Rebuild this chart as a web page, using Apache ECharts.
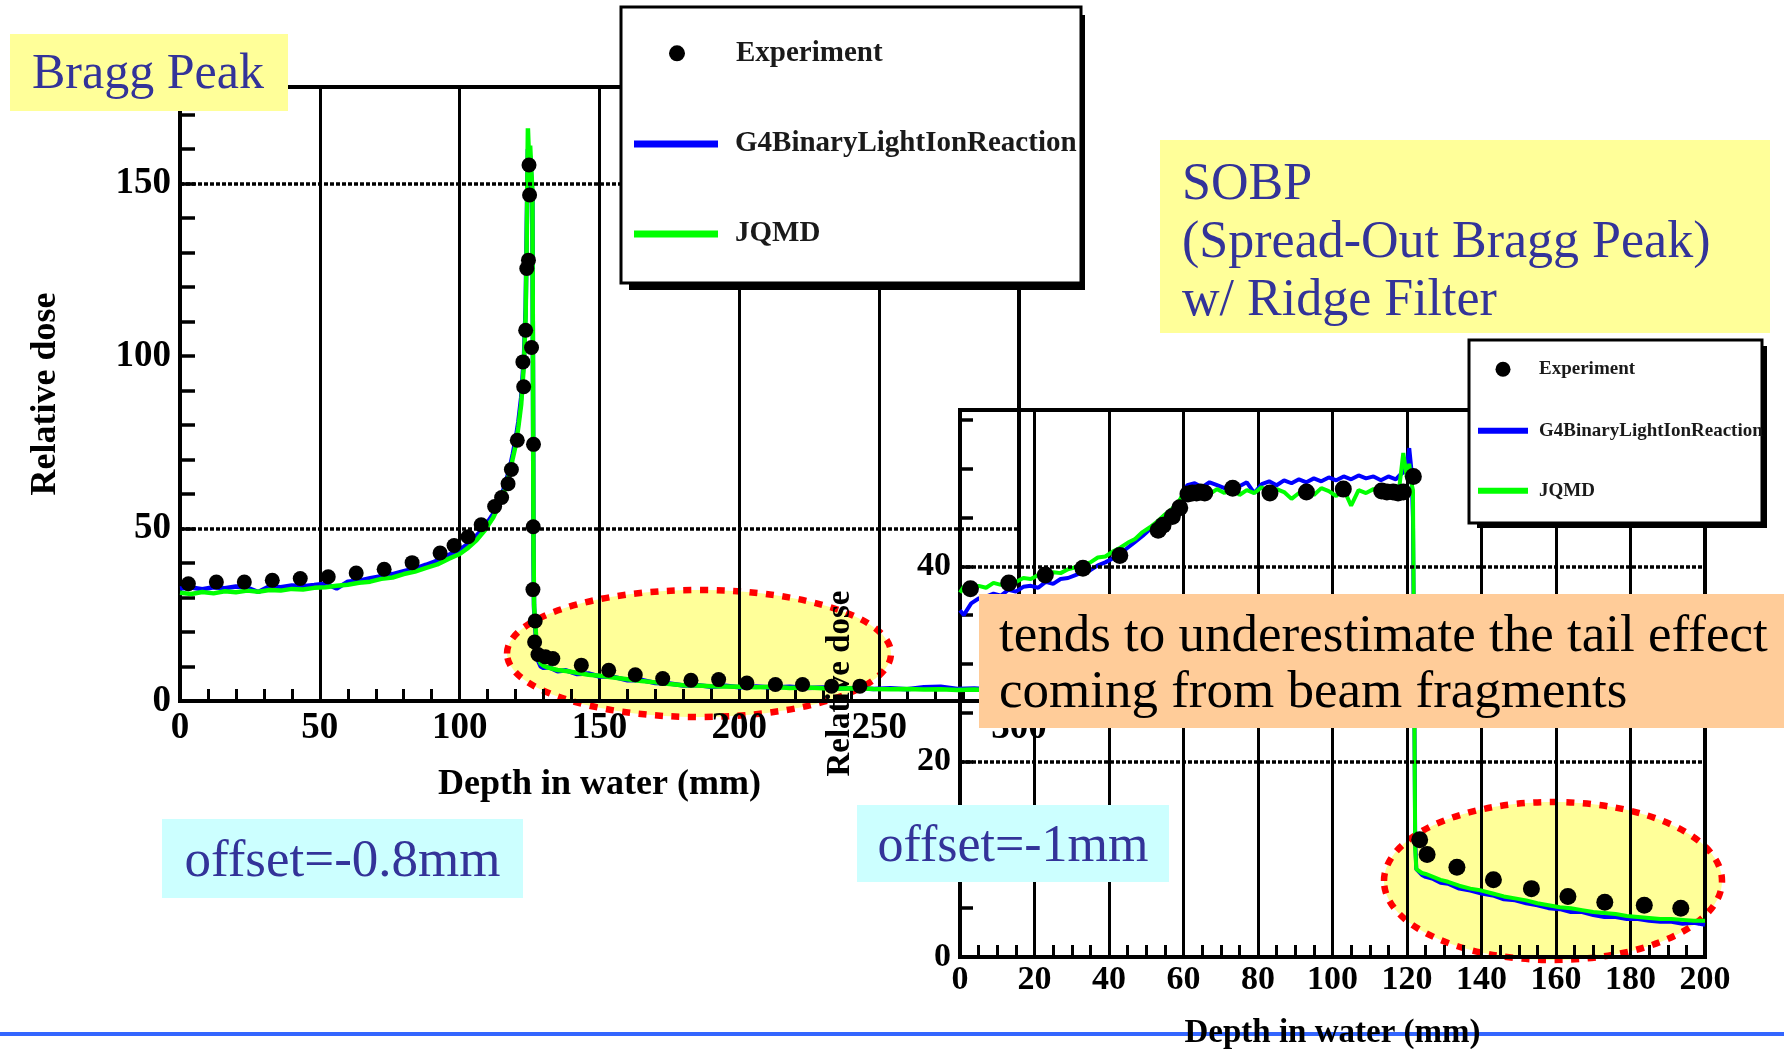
<!DOCTYPE html>
<html>
<head>
<meta charset="utf-8">
<title>Bragg peak and SOBP depth-dose curves</title>
<script src="https://cdn.jsdelivr.net/npm/echarts@6/dist/echarts.min.js"></script>
<style>
  html, body { margin: 0; padding: 0; background: #ffffff; }
  #chart { width: 1784px; height: 1049px; }
</style>
</head>
<body>
<div id="chart"></div>
<script>
// ---------------- Bragg peak (single carbon beam) ----------------
const braggExpDepth = [3, 13, 23, 33, 43, 53, 63, 73, 83, 93, 98, 103, 107.7, 112.5, 115, 117.3, 118.5, 120.6, 122.6, 122.9, 123.6, 124.0, 124.6, 124.8, 125.0, 125.7, 126.4, 126.3, 126.2, 127.0, 126.8, 128.0, 130.7, 133.3, 143.5, 153.3, 162.8, 172.6, 182.7, 192.6, 202.7, 212.9, 222.6, 233.0, 243.1];
const braggExpDose  = [34.0, 34.5, 34.5, 35.0, 35.5, 36.0, 37.1, 38.2, 40.1, 42.9, 45.1, 47.6, 51.1, 56.4, 59.0, 63.0, 67.1, 75.6, 98.3, 91.1, 107.5, 125.4, 127.8, 155.4, 146.7, 102.5, 74.4, 50.5, 32.3, 23.2, 17.1, 13.5, 12.8, 12.3, 10.4, 8.9, 7.6, 6.5, 6.0, 6.2, 5.2, 4.8, 4.8, 4.3, 4.3];

const braggSimDepth = [0, 4, 8, 12, 16, 20, 24, 28, 32, 36, 40, 44, 48, 52, 56, 60, 64, 68, 72, 76, 80, 84, 88, 92, 96, 100,
  103, 106, 109, 112, 114, 116, 118, 119, 120, 121, 122, 123,
  123.6, 124.0, 124.4, 124.8, 125.2, 125.6, 126.0, 126.2, 126.4, 126.6, 127.0, 127.5, 128,
  129, 130, 132, 135, 138, 142, 146, 150, 155, 160, 165, 170, 175, 180, 185, 190, 195, 200,
  206, 212, 218, 224, 230, 236, 242, 248, 254, 260, 266, 272, 278, 284, 290, 296, 300];
const braggBinaryDose = [32.6, 32.9, 32.4, 33.0, 32.7, 33.2, 32.9, 31.6, 33.3, 33.0, 33.5, 33.3, 33.6, 34.0, 32.6, 34.6, 34.9, 35.6, 36.2, 36.8, 37.6, 38.4, 39.5, 40.7, 42.3, 43.8,
  45.6, 47.9, 50.6, 54.3, 57.8, 62.0, 67.8, 71.6, 75.8, 81.0, 88.0, 100.0,
  114, 138, 160, 155, 158, 152, 146, 98, 42, 27, 21.5, 16.0, 11.8,
  10.0, 9.6, 9.8, 8.6, 8.9, 7.8, 8.0, 7.1, 7.0, 6.0, 6.1, 5.2, 5.1, 4.5, 4.6, 4.1, 4.4, 4.0,
  4.2, 3.9, 4.1, 3.8, 3.9, 3.6, 3.8, 3.5, 3.7, 3.4, 4.0, 4.1, 3.5, 3.6, 3.3, 3.5, 3.4];
const braggJqmdDose = [31.4, 31.0, 31.6, 31.2, 31.8, 31.5, 32.0, 31.7, 32.2, 32.0, 32.5, 32.3, 32.8, 33.0, 33.4, 33.7, 34.3, 34.6, 35.4, 35.8, 36.8, 37.5, 38.6, 39.6, 41.2, 42.6,
  44.4, 46.6, 49.5, 53.2, 56.6, 60.8, 66.5, 70.4, 74.0, 79.5, 86.0, 98.0,
  112, 135, 166, 157, 161, 154, 148, 100, 45, 28, 22.5, 17.0, 12.5,
  10.8, 10.2, 9.6, 9.0, 8.7, 8.2, 7.6, 7.3, 6.8, 6.3, 5.8, 5.4, 4.9, 4.6, 4.5, 4.3, 4.2, 4.1,
  4.0, 4.1, 3.8, 3.9, 3.7, 3.6, 3.7, 3.5, 3.4, 3.5, 3.3, 3.4, 3.2, 3.3, 3.1, 3.2, 3.1];

const braggDoseLabels = [0, 50, 100, 150];
const braggDashedLevels = [50, 150];

// ---------------- SOBP (ridge filter) ----------------
const sobpExpDepth = [2.8, 13.1, 22.9, 33.0, 42.9, 53.2, 54.5, 57.0, 59.0, 61.2, 62.4, 63.5, 64.6, 65.7, 73.2, 83.2, 93.0, 102.9, 113.2, 114.6, 116.3, 117.6, 119.0, 121.7,
  123.4, 125.4, 133.4, 143.2, 153.4, 163.2, 173.1, 183.7, 193.5];
const sobpExpDose  = [37.7, 38.3, 39.1, 39.8, 41.1, 43.7, 44.2, 45.1, 46.0, 47.4, 47.5, 47.5, 47.6, 47.5, 48.0, 47.5, 47.6, 47.9, 47.7, 47.6, 47.6, 47.5, 47.6, 49.2,
  12.0, 10.5, 9.2, 7.9, 7.0, 6.2, 5.6, 5.3, 5.0];

const sobpSimDepth = [0, 1, 3, 5, 7, 9, 11, 13, 15, 17, 19, 21, 23, 25, 27, 29, 31, 33, 35, 37, 39, 41, 43, 45, 47, 49, 51, 53, 55, 57, 59, 60,
  61, 63, 65, 67, 69, 71, 73, 75, 77, 79, 81, 83, 85, 87, 89, 91, 93, 95, 97, 99, 101, 103, 105, 107, 109, 111, 113, 115, 117,
  118, 119, 120, 120.6, 121.2, 121.6, 121.9, 122.2, 122.5, 123, 124, 125, 127, 129, 131,
  134, 137, 140, 143, 146, 149, 152, 155, 158, 161, 164, 167, 170, 173, 176, 179, 182, 185, 188, 191, 194, 197, 200];
const sobpBinaryDose = [35.5, 35.0, 36.2, 36.7, 36.9, 37.2, 37.0, 37.6, 37.4, 37.9, 38.0, 37.8, 38.4, 38.2, 38.7, 38.8, 39.1, 39.4, 39.6, 40.1, 40.4, 40.8, 41.3, 41.9, 42.5, 43.1, 43.8, 44.4, 45.1, 45.8, 46.7, 47.4,
  48.3, 48.5, 48.1, 48.6, 48.3, 48.0, 48.5, 48.2, 48.6, 47.5, 48.4, 48.7, 48.3, 48.8, 48.5, 48.9, 48.6, 49.0, 48.7, 49.1, 48.8, 49.2, 48.9, 49.3, 49.0, 49.2, 48.8, 49.2, 48.9,
  49.3, 49.6, 50.4, 52.1, 49.8, 45.0, 30.0, 12.0, 9.0, 8.8, 8.4, 8.2, 8.0, 7.6, 7.5,
  7.0, 6.8, 6.5, 6.3, 5.9, 5.8, 5.5, 5.3, 5.0, 4.9, 4.6, 4.6, 4.3, 4.1, 4.1, 3.9, 3.9, 3.7, 3.6, 3.6, 3.4, 3.5, 3.3];
const sobpJqmdDose = [37.3, 37.9, 37.6, 38.0, 37.8, 38.3, 38.1, 38.6, 38.4, 38.8, 38.7, 39.1, 39.0, 39.4, 39.3, 39.7, 39.9, 40.2, 40.4, 40.9, 41.0, 41.5, 41.9, 42.4, 42.8, 43.5, 44.0, 44.6, 45.3, 45.9, 46.8, 47.5,
  47.9, 47.6, 48.0, 47.4, 47.9, 47.5, 48.3, 47.3, 47.8, 47.5, 48.1, 47.4, 47.9, 47.6, 46.9, 47.5, 47.9, 47.3, 48.0, 47.7, 47.2, 47.9, 46.2, 47.8, 47.5, 47.9, 47.6, 48.0, 47.7,
  48.3, 51.6, 49.0, 50.5, 48.5, 47.8, 30.0, 11.0, 9.0, 8.8, 8.6, 8.5, 8.2, 7.9, 7.7,
  7.3, 7.0, 6.8, 6.5, 6.2, 6.0, 5.8, 5.5, 5.3, 5.1, 5.0, 4.8, 4.6, 4.5, 4.4, 4.2, 4.1, 4.0, 3.9, 3.9, 3.8, 3.7, 3.7];

const sobpDoseLabels = [0, 20, 40];
const sobpDashedLevels = [20, 40];

// ---------------- helpers ----------------
const SERIF = '"Liberation Serif", "Times New Roman", serif';
const INK = '#333399';
const zip = (xs, ys) => xs.map((x, i) => [x, ys[i]]);

function valueAxis(opts) {
  return Object.assign({
    type: 'value',
    nameLocation: 'middle',
    nameMoveOverlap: false,
    axisLine: { show: true, onZero: false, lineStyle: { color: '#000', width: 4 } },
    splitLine: { show: false },
    silent: true
  }, opts);
}

function legendText(size) {
  return { fontFamily: SERIF, fontWeight: 'bold', fontSize: size, color: '#1a1a1a' };
}

const dashedRule = { color: '#000', width: 3.5, type: [4, 2] };

const chart = echarts.init(document.getElementById('chart'), null, { renderer: 'canvas' });

chart.setOption({
  animation: false,
  backgroundColor: '#ffffff',
  grid: [
    { left: 180, top: 87, width: 839, height: 614, show: true, borderColor: '#000', borderWidth: 4,
      backgroundColor: 'transparent', containLabel: false, outerBoundsMode: 'none' },
    { left: 960, top: 410, width: 745, height: 547, show: true, borderColor: '#000', borderWidth: 4,
      backgroundColor: 'transparent', containLabel: false, outerBoundsMode: 'none' }
  ],
  xAxis: [
    valueAxis({
      gridIndex: 0, min: 0, max: 300, interval: 50,
      axisTick: { show: true, inside: true, length: 12, lineStyle: { color: '#000', width: 3 } },
      minorTick: { show: true, splitNumber: 5, length: 12, lineStyle: { color: '#000', width: 3 } },
      splitLine: { show: true, lineStyle: { color: '#000', width: 3 } },
      axisLabel: { fontFamily: SERIF, fontWeight: 'bold', fontSize: 37, color: '#000', margin: 9 },
      name: 'Depth in water (mm)', nameGap: 66,
      nameTextStyle: { fontFamily: SERIF, fontWeight: 'bold', fontSize: 36, color: '#000' }
    }),
    valueAxis({
      gridIndex: 1, min: 0, max: 200, interval: 20,
      axisTick: { show: true, inside: true, length: 12, lineStyle: { color: '#000', width: 3 } },
      minorTick: { show: true, splitNumber: 4, length: 12, lineStyle: { color: '#000', width: 3 } },
      splitLine: { show: true, lineStyle: { color: '#000', width: 3 } },
      axisLabel: { fontFamily: SERIF, fontWeight: 'bold', fontSize: 34, color: '#000', margin: 6 },
      name: 'Depth in water (mm)', nameGap: 60,
      nameTextStyle: { fontFamily: SERIF, fontWeight: 'bold', fontSize: 33, color: '#000' }
    })
  ],
  yAxis: [
    valueAxis({
      gridIndex: 0, min: 0, max: 178, interval: 10,
      axisTick: { show: true, inside: true, length: 15, lineStyle: { color: '#000', width: 3.5 } },
      axisLabel: { fontFamily: SERIF, fontWeight: 'bold', fontSize: 37, color: '#000', margin: 9,
        formatter: v => braggDoseLabels.includes(v) ? String(v) : '' },
      name: 'Relative dose', nameGap: 116, nameRotate: 90,
      nameTextStyle: { fontFamily: SERIF, fontWeight: 'bold', fontSize: 36, color: '#000' }
    }),
    valueAxis({
      gridIndex: 1, min: 0, max: 56, interval: 5,
      axisTick: { show: true, inside: true, length: 13, lineStyle: { color: '#000', width: 3.5 } },
      axisLabel: { fontFamily: SERIF, fontWeight: 'bold', fontSize: 34, color: '#000', margin: 9,
        formatter: v => sobpDoseLabels.includes(v) ? String(v) : '' },
      name: 'Relative dose', nameGap: 103, nameRotate: 90,
      nameTextStyle: { fontFamily: SERIF, fontWeight: 'bold', fontSize: 33, color: '#000' }
    })
  ],
  legend: [
    // Bragg peak panel legend
    { data: ['Experiment'], left: 669, top: 38.8, orient: 'vertical', padding: 0,
      itemWidth: 84, itemHeight: 16, symbolKeepAspect: true, selectedMode: false, z: 120,
      itemStyle: { borderWidth: 0, opacity: 1 },
      textStyle: Object.assign(legendText(29), { padding: [0, 0, 0, 12] }) },
    { data: [{ name: 'G4BinaryLightIonReaction', icon: 'rect' }, { name: 'JQMD', icon: 'rect' }],
      left: 634, top: 129.5, orient: 'vertical', padding: 0, itemGap: 61,
      itemWidth: 84, itemHeight: 7, symbolKeepAspect: false, selectedMode: false, z: 120,
      itemStyle: { borderWidth: 0 },
      textStyle: Object.assign(legendText(29), { padding: [0, 0, 0, 12] }) },
    // SOBP panel legend
    { data: ['Experiment'], left: 1495.5, top: 359.8, orient: 'vertical', padding: 0,
      itemWidth: 50, itemHeight: 15, symbolKeepAspect: true, selectedMode: false, z: 120,
      itemStyle: { borderWidth: 0, opacity: 1 },
      textStyle: Object.assign(legendText(19), { padding: [0, 0, 0, 6] }) },
    { data: [{ name: 'G4BinaryLightIonReaction', icon: 'rect' }, { name: 'JQMD', icon: 'rect' }],
      left: 1478, top: 421.2, orient: 'vertical', padding: 0, itemGap: 41,
      itemWidth: 50, itemHeight: 6, symbolKeepAspect: false, selectedMode: false, z: 120,
      itemStyle: { borderWidth: 0 },
      textStyle: Object.assign(legendText(19), { padding: [0, 0, 0, 6] }) }
  ],
  series: [
    // Bragg peak panel
    { name: 'G4BinaryLightIonReaction', type: 'line', xAxisIndex: 0, yAxisIndex: 0,
      data: zip(braggSimDepth, braggBinaryDose), showSymbol: false, symbol: 'none', color: '#0000ff',
      itemStyle: { color: '#0000ff' }, lineStyle: { color: '#0000ff', width: 4.5 }, z: 3, silent: true },
    { name: 'JQMD', type: 'line', xAxisIndex: 0, yAxisIndex: 0,
      data: zip(braggSimDepth, braggJqmdDose), showSymbol: false, symbol: 'none', color: '#00ff00',
      itemStyle: { color: '#00ff00' }, lineStyle: { color: '#00ff00', width: 4.5 }, z: 4, silent: true },
    { name: 'Experiment', type: 'scatter', xAxisIndex: 0, yAxisIndex: 0,
      data: zip(braggExpDepth, braggExpDose), symbol: 'circle', symbolSize: 15, color: '#000',
      itemStyle: { color: '#000', opacity: 1 }, z: 5, silent: true,
      markLine: { silent: true, symbol: ['none', 'none'], label: { show: false }, animation: false,
        lineStyle: dashedRule, data: braggDashedLevels.map(v => ({ yAxis: v })) } },
    // SOBP panel
    { name: 'G4BinaryLightIonReaction', type: 'line', xAxisIndex: 1, yAxisIndex: 1,
      data: zip(sobpSimDepth, sobpBinaryDose), showSymbol: false, symbol: 'none', color: '#0000ff',
      itemStyle: { color: '#0000ff' }, lineStyle: { color: '#0000ff', width: 4 }, z: 3, silent: true },
    { name: 'JQMD', type: 'line', xAxisIndex: 1, yAxisIndex: 1,
      data: zip(sobpSimDepth, sobpJqmdDose), showSymbol: false, symbol: 'none', color: '#00ff00',
      itemStyle: { color: '#00ff00' }, lineStyle: { color: '#00ff00', width: 4 }, z: 4, silent: true },
    { name: 'Experiment', type: 'scatter', xAxisIndex: 1, yAxisIndex: 1,
      data: zip(sobpExpDepth, sobpExpDose), symbol: 'circle', symbolSize: 17, color: '#000',
      itemStyle: { color: '#000', opacity: 1 }, z: 5, silent: true,
      markLine: { silent: true, symbol: ['none', 'none'], label: { show: false }, animation: false,
        lineStyle: dashedRule, data: sobpDashedLevels.map(v => ({ yAxis: v })) } }
  ],
  graphic: {
    elements: [
      // highlighted tail regions, behind the curves
      { type: 'ellipse', silent: true, z: -10,
        shape: { cx: 699, cy: 653.5, rx: 192, ry: 63.5 },
        style: { fill: '#ffff99', stroke: '#ff0000', lineWidth: 6.5, lineDash: [8, 8.5] } },
      { type: 'ellipse', silent: true, z: -10,
        shape: { cx: 1553, cy: 881, rx: 169, ry: 79 },
        style: { fill: '#ffff99', stroke: '#ff0000', lineWidth: 6.5, lineDash: [8, 8.5] } },
      // slide footer rule
      { type: 'line', silent: true, z: -10,
        shape: { x1: 0, y1: 1034, x2: 1784, y2: 1034 },
        style: { stroke: '#3366ff', lineWidth: 4 } },
      // legend frames with drop shadow
      { type: 'rect', silent: true, z: 100, shape: { x: 629, y: 15, width: 456, height: 275 }, style: { fill: '#000' } },
      { type: 'rect', silent: true, z: 101, shape: { x: 621, y: 7, width: 460, height: 276 },
        style: { fill: '#fff', stroke: '#000', lineWidth: 3 } },
      { type: 'rect', silent: true, z: 100, shape: { x: 1477, y: 346, width: 290, height: 182 }, style: { fill: '#000' } },
      { type: 'rect', silent: true, z: 101, shape: { x: 1469, y: 340, width: 293, height: 183 },
        style: { fill: '#fff', stroke: '#000', lineWidth: 3 } },
      // annotation boxes
      { type: 'rect', silent: true, z: 110, shape: { x: 10, y: 34, width: 278, height: 77 }, style: { fill: '#ffff99' } },
      { type: 'text', silent: true, z: 111, x: 32, y: 75,
        style: { text: 'Bragg Peak', fontFamily: SERIF, fontSize: 50, fill: INK, align: 'left', verticalAlign: 'middle' } },
      { type: 'rect', silent: true, z: 110, shape: { x: 1160, y: 140, width: 610, height: 193 }, style: { fill: '#ffff99' } },
      { type: 'text', silent: true, z: 111, x: 1182, y: 156,
        style: { text: 'SOBP\n(Spread-Out Bragg Peak)\nw/ Ridge Filter', fontFamily: SERIF, fontSize: 52, lineHeight: 58,
          fill: INK, align: 'left', verticalAlign: 'top' } },
      { type: 'rect', silent: true, z: 110, shape: { x: 979, y: 594, width: 805, height: 134 }, style: { fill: '#ffcc99' } },
      { type: 'text', silent: true, z: 111, x: 999, y: 609,
        style: { text: 'tends to underestimate the tail effect\ncoming from beam fragments', fontFamily: SERIF, fontSize: 53,
          lineHeight: 56, fill: '#000', align: 'left', verticalAlign: 'top' } },
      { type: 'rect', silent: true, z: 110, shape: { x: 162, y: 819, width: 361, height: 79 }, style: { fill: '#ccffff' } },
      { type: 'text', silent: true, z: 111, x: 342.5, y: 862,
        style: { text: 'offset=-0.8mm', fontFamily: SERIF, fontSize: 53, fill: INK, align: 'center', verticalAlign: 'middle' } },
      { type: 'rect', silent: true, z: 110, shape: { x: 857, y: 805, width: 312, height: 77 }, style: { fill: '#ccffff' } },
      { type: 'text', silent: true, z: 111, x: 1013, y: 847,
        style: { text: 'offset=-1mm', fontFamily: SERIF, fontSize: 52, fill: INK, align: 'center', verticalAlign: 'middle' } }
    ]
  }
});
</script>
</body>
</html>
